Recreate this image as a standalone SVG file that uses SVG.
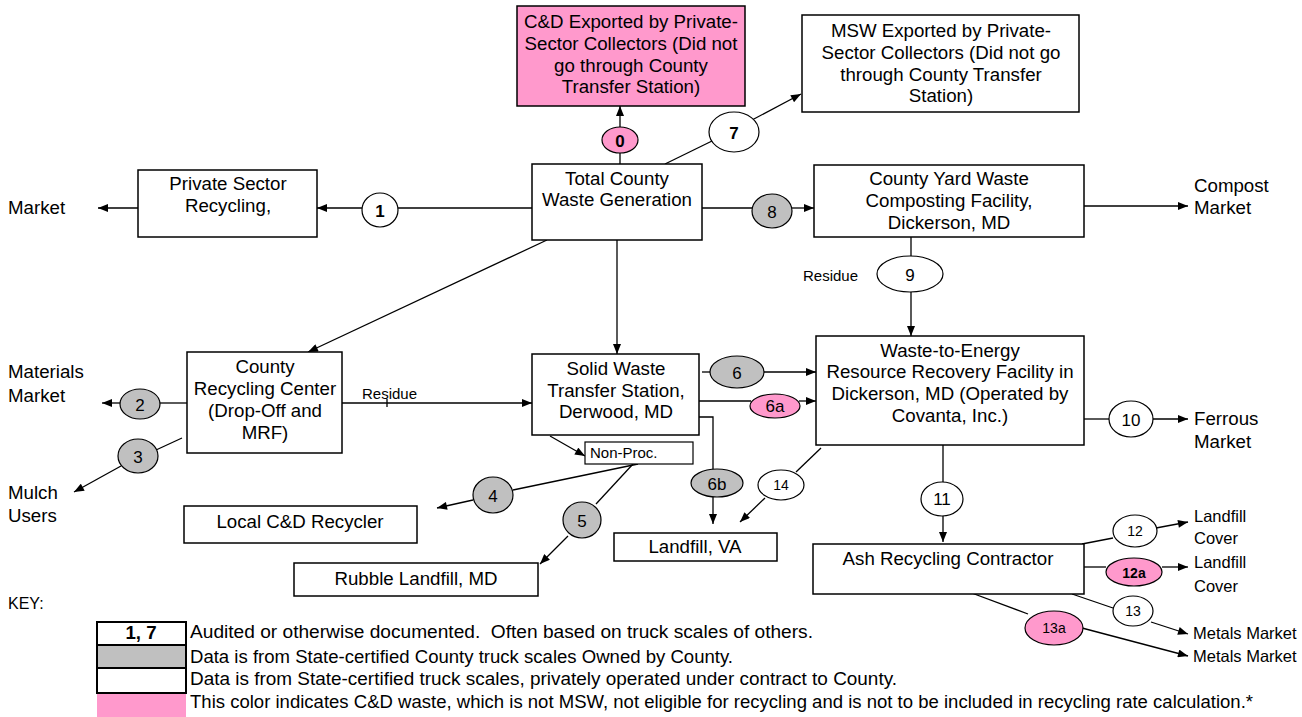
<svg xmlns="http://www.w3.org/2000/svg" width="1302" height="717" viewBox="0 0 1302 717">
<style>
text{font-family:"Liberation Sans",Arial,sans-serif;fill:#000}
.t{font-size:18.7px;text-anchor:middle}
.l{font-size:18.7px}
.s{font-size:15px}
.n{font-size:17px;text-anchor:middle}
.ns{font-size:14px;text-anchor:middle}
.b{font-weight:bold}
.box{fill:#fff;stroke:#000;stroke-width:1.5}
.pinkbox{fill:#FF99CC;stroke:#000;stroke-width:1.5}
.ew{fill:#fff;stroke:#000;stroke-width:1.2}
.eg{fill:#C0C0C0;stroke:#000;stroke-width:1.2}
.ep{fill:#FF99CC;stroke:#000;stroke-width:1.2}
#connectors line,#connectors polyline{stroke:#000;stroke-width:1.3;fill:none}
.a{marker-end:url(#arr)}
</style>
<defs>
<marker id="arr" viewBox="0 0 10 8" refX="10" refY="4" markerWidth="11" markerHeight="8" markerUnits="userSpaceOnUse" orient="auto">
<path d="M0,0 L10,4 L0,8 z" fill="#000"/>
</marker>
</defs>
<rect width="1302" height="717" fill="#fff"/>

<g id="connectors">
<line x1="620" y1="164" x2="620" y2="153"/>
<line class="a" x1="620" y1="127" x2="620" y2="106"/>
<line x1="665" y1="164" x2="712" y2="141"/>
<line class="a" x1="752" y1="120" x2="801" y2="94"/>
<line x1="532" y1="208" x2="398" y2="208"/>
<line class="a" x1="362" y1="208" x2="317" y2="208"/>
<line class="a" x1="138" y1="208" x2="98" y2="208"/>
<line x1="702" y1="208" x2="753" y2="208"/>
<line class="a" x1="791" y1="208" x2="814" y2="208"/>
<line class="a" x1="1084" y1="206" x2="1188" y2="206"/>
<line x1="911" y1="237" x2="911" y2="256"/>
<line class="a" x1="911" y1="292" x2="911" y2="336"/>
<line class="a" x1="547" y1="240" x2="308" y2="352"/>
<line class="a" x1="617" y1="240" x2="617" y2="354"/>
<line class="a" x1="342" y1="403" x2="532" y2="403"/>
<line x1="387" y1="399" x2="387" y2="407"/>
<line x1="192" y1="403" x2="160" y2="403"/>
<line class="a" x1="120" y1="403" x2="102" y2="403"/>
<line x1="182" y1="438" x2="156" y2="450"/>
<line class="a" x1="121" y1="466" x2="74" y2="492"/>
<line x1="702" y1="372" x2="710" y2="372"/>
<line class="a" x1="764" y1="372" x2="816" y2="372"/>
<line x1="699" y1="401" x2="751" y2="401"/>
<line class="a" x1="799" y1="401" x2="816" y2="401"/>
<polyline points="699,417 713,417 713,470"/>
<line class="a" x1="713" y1="497" x2="713" y2="524"/>
<line x1="821" y1="448" x2="796" y2="472"/>
<line class="a" x1="765" y1="498" x2="740" y2="522"/>
<line class="a" x1="550" y1="436" x2="585" y2="456"/>
<line x1="638" y1="464" x2="513" y2="490"/>
<line class="a" x1="473" y1="500" x2="437" y2="508"/>
<line x1="633" y1="464" x2="596" y2="504"/>
<line class="a" x1="568" y1="536" x2="540" y2="564"/>
<line x1="1084" y1="419" x2="1109" y2="419"/>
<line class="a" x1="1153" y1="419" x2="1188" y2="419"/>
<line x1="943" y1="445" x2="943" y2="482"/>
<line class="a" x1="943" y1="516" x2="943" y2="542"/>
<line x1="1082" y1="544" x2="1113" y2="538"/>
<line class="a" x1="1156" y1="528" x2="1188" y2="522"/>
<line x1="1084" y1="567" x2="1106" y2="567"/>
<line class="a" x1="1162" y1="567" x2="1188" y2="567"/>
<line x1="1072" y1="594" x2="1113" y2="608"/>
<line class="a" x1="1151" y1="622" x2="1188" y2="634"/>
<line x1="969" y1="592" x2="1028" y2="614"/>
<line class="a" x1="1082" y1="628" x2="1188" y2="656"/>
</g>

<g id="node-cd-export">
<rect class="pinkbox" x="517" y="6" width="228" height="100"/>
<text class="t" x="631" y="28">C&amp;D Exported by Private-</text>
<text class="t" x="631" y="50">Sector Collectors (Did not</text>
<text class="t" x="631" y="72">go through County</text>
<text class="t" x="631" y="93">Transfer Station)</text>
</g>
<g id="node-msw-export">
<rect class="box" x="802" y="15" width="277" height="97"/>
<text class="t" x="941" y="37">MSW Exported by Private-</text>
<text class="t" x="941" y="59">Sector Collectors (Did not go</text>
<text class="t" x="941" y="81">through County Transfer</text>
<text class="t" x="941" y="102">Station)</text>
</g>
<g id="node-total">
<rect class="box" x="532" y="164" width="170" height="76"/>
<text class="t" x="617" y="185">Total County</text>
<text class="t" x="617" y="206">Waste Generation</text>
</g>
<g id="node-private">
<rect class="box" x="138" y="170" width="179" height="67"/>
<text class="t" x="228" y="190">Private Sector</text>
<text class="t" x="228" y="212">Recycling,</text>
</g>
<g id="node-yard">
<rect class="box" x="814" y="165" width="270" height="72"/>
<text class="t" x="949" y="185">County Yard Waste</text>
<text class="t" x="949" y="207">Composting Facility,</text>
<text class="t" x="949" y="229">Dickerson, MD</text>
</g>
<g id="node-wte">
<rect class="box" x="816" y="336" width="268" height="109"/>
<text class="t" x="950" y="357">Waste-to-Energy</text>
<text class="t" x="950" y="378">Resource Recovery Facility in</text>
<text class="t" x="950" y="400">Dickerson, MD (Operated by</text>
<text class="t" x="950" y="422">Covanta, Inc.)</text>
</g>
<g id="node-recycling-center">
<rect class="box" x="187" y="352" width="155" height="101"/>
<text class="t" x="265" y="373">County</text>
<text class="t" x="265" y="395">Recycling Center</text>
<text class="t" x="265" y="417">(Drop-Off and</text>
<text class="t" x="265" y="439">MRF)</text>
</g>
<g id="node-transfer">
<rect class="box" x="532" y="354" width="167" height="81"/>
<text class="t" x="616" y="375">Solid Waste</text>
<text class="t" x="616" y="397">Transfer Station,</text>
<text class="t" x="616" y="418">Derwood, MD</text>
</g>
<g id="node-nonproc">
<rect class="box" x="585" y="442" width="108" height="22" style="stroke-width:1.2"/>
<text class="s" x="590" y="458">Non-Proc.</text>
</g>
<g id="node-local-cd">
<rect class="box" x="184" y="506" width="233" height="37"/>
<text class="t" x="300" y="528">Local C&amp;D Recycler</text>
</g>
<g id="node-rubble">
<rect class="box" x="294" y="563" width="244" height="33"/>
<text class="t" x="416" y="585">Rubble Landfill, MD</text>
</g>
<g id="node-landfill-va">
<rect class="box" x="614" y="533" width="163" height="28"/>
<text class="t" x="695" y="553">Landfill, VA</text>
</g>
<g id="node-ash">
<rect class="box" x="813" y="544" width="271" height="50"/>
<text class="t" x="948" y="565">Ash Recycling Contractor</text>
</g>

<g id="label-market"><text class="l" x="8" y="214">Market</text></g>
<g id="label-compost"><text class="l" x="1194" y="192">Compost</text><text class="l" x="1194" y="214">Market</text></g>
<g id="label-materials"><text class="l" x="8" y="378">Materials</text><text class="l" x="8" y="402">Market</text></g>
<g id="label-mulch"><text class="l" x="8" y="499">Mulch</text><text class="l" x="8" y="522">Users</text></g>
<g id="label-ferrous"><text class="l" x="1194" y="425">Ferrous</text><text class="l" x="1194" y="448">Market</text></g>
<g id="label-cover1"><text class="l" x="1194" y="522" style="font-size:16.5px">Landfill</text><text class="l" x="1194" y="544" style="font-size:16.5px">Cover</text></g>
<g id="label-cover2"><text class="l" x="1194" y="568" style="font-size:16.5px">Landfill</text><text class="l" x="1194" y="592" style="font-size:16.5px">Cover</text></g>
<g id="label-metals1"><text class="l" x="1193" y="639" style="font-size:16.5px">Metals Market</text></g>
<g id="label-metals2"><text class="l" x="1193" y="662" style="font-size:16.5px">Metals Market</text></g>
<g id="label-residue1"><text class="s" x="362" y="399">Residue</text></g>
<g id="label-residue2"><text class="s" x="803" y="281">Residue</text></g>

<g id="flow-0"><ellipse class="ep" cx="620" cy="140" rx="18" ry="13"/><text class="n b" x="620" y="147">0</text></g>
<g id="flow-7"><ellipse class="ew" cx="734" cy="132" rx="25" ry="20"/><text class="n b" x="734" y="139">7</text></g>
<g id="flow-1"><ellipse class="ew" cx="380" cy="210" rx="18" ry="17"/><text class="n b" x="380" y="217">1</text></g>
<g id="flow-8"><ellipse class="eg" cx="772" cy="211" rx="20" ry="17"/><text class="n" x="772" y="218">8</text></g>
<g id="flow-9"><ellipse class="ew" cx="910" cy="274" rx="33" ry="18"/><text class="n" x="910" y="281">9</text></g>
<g id="flow-2"><ellipse class="eg" cx="140" cy="404" rx="20" ry="15"/><text class="n" x="140" y="411">2</text></g>
<g id="flow-3"><ellipse class="eg" cx="138" cy="456" rx="20" ry="17"/><text class="n" x="138" y="463">3</text></g>
<g id="flow-4"><ellipse class="eg" cx="493" cy="495" rx="20" ry="18"/><text class="n" x="493" y="502">4</text></g>
<g id="flow-5"><ellipse class="eg" cx="582" cy="520" rx="19" ry="18"/><text class="n" x="582" y="527">5</text></g>
<g id="flow-6"><ellipse class="eg" cx="737" cy="372" rx="27" ry="16"/><text class="n" x="737" y="379">6</text></g>
<g id="flow-6a"><ellipse class="ep" cx="775" cy="406" rx="25" ry="12"/><text class="n" x="775" y="412">6a</text></g>
<g id="flow-6b"><ellipse class="eg" cx="717" cy="483" rx="26" ry="14"/><text class="n" x="717" y="490">6b</text></g>
<g id="flow-14"><ellipse class="ew" cx="781" cy="485" rx="23" ry="15"/><text class="ns" x="781" y="490">14</text></g>
<g id="flow-10"><ellipse class="ew" cx="1131" cy="419" rx="22" ry="18"/><text class="n" x="1131" y="426">10</text></g>
<g id="flow-11"><ellipse class="ew" cx="942" cy="499" rx="21" ry="17"/><text class="n" x="942" y="505">11</text></g>
<g id="flow-12"><ellipse class="ew" cx="1135" cy="531" rx="22" ry="16"/><text class="ns" x="1135" y="536">12</text></g>
<g id="flow-12a"><ellipse class="ep" cx="1134" cy="572" rx="28" ry="14"/><text class="ns b" x="1134" y="578">12a</text></g>
<g id="flow-13"><ellipse class="ew" cx="1133" cy="611" rx="20" ry="15"/><text class="ns" x="1133" y="616">13</text></g>
<g id="flow-13a"><ellipse class="ep" cx="1054" cy="628" rx="29" ry="17"/><text class="ns" x="1054" y="633">13a</text></g>

<g id="key">
<text class="l" x="8" y="609" style="font-size:16px">KEY:</text>
<rect x="97" y="622" width="89" height="23" fill="#fff" stroke="#000" stroke-width="2"/>
<rect x="97" y="645" width="89" height="23" fill="#C0C0C0" stroke="#000" stroke-width="2"/>
<rect x="97" y="668" width="89" height="25" fill="#fff" stroke="#000" stroke-width="2"/>
<rect x="97" y="694" width="89" height="23" fill="#FF99CC"/>
<text class="t b" x="141" y="639">1, 7</text>
<text class="l" x="190" y="638" xml:space="preserve" textLength="623" lengthAdjust="spacingAndGlyphs">Audited or otherwise documented.  Often based on truck scales of others.</text>
<text class="l" x="190" y="663" textLength="543" lengthAdjust="spacingAndGlyphs">Data is from State-certified County truck scales Owned by County.</text>
<text class="l" x="190" y="685" textLength="707" lengthAdjust="spacingAndGlyphs">Data is from State-certified truck scales, privately operated under contract to County.</text>
<text class="l" x="190" y="708" textLength="1063" lengthAdjust="spacingAndGlyphs">This color indicates C&amp;D waste, which is not MSW, not eligible for recycling and is not to be included in recycling rate calculation.*</text>
</g>
</svg>
